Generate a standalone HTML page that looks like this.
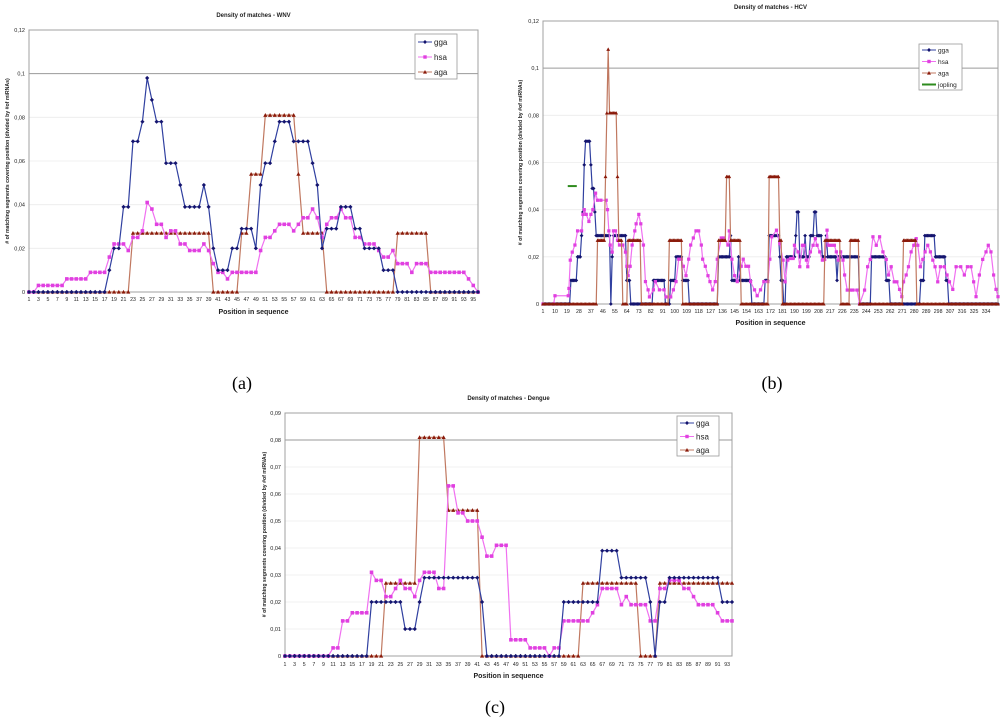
<!DOCTYPE html>
<html><head><meta charset="utf-8"><style>
body{margin:0;background:#fff;}
svg{display:block;font-family:"Liberation Sans",sans-serif;}
</style></head><body>
<svg id="fig" width="1000" height="717" viewBox="0 0 1000 717" xmlns="http://www.w3.org/2000/svg"></svg>
<script>
// ---- Chart (a) WNV data ----
const wnvGga=[0,0,0,0,0,0,0,0,0,0,0,0,0,0,0,0,0,.01,.02,.02,.039,.039,.069,.069,.078,.098,.088,.078,.078,.059,.059,.059,.049,.039,.039,.039,.039,.049,.039,.02,.01,.01,.01,.02,.02,.029,.029,.029,.02,.049,.059,.059,.069,.078,.078,.078,.069,.069,.069,.069,.059,.049,.02,.029,.029,.029,.039,.039,.039,.029,.029,.02,.02,.02,.02,.01,.01,.01,0,0,0,0,0,0,0,0,0,0,0,0,0,0,0,0,0,0];
const wnvHsa=[0,0,.003,.003,.003,.003,.003,.003,.006,.006,.006,.006,.006,.009,.009,.009,.009,.016,.022,.022,.022,.019,.025,.025,.028,.041,.038,.031,.031,.025,.028,.028,.022,.022,.019,.019,.019,.022,.019,.013,.009,.009,.006,.009,.009,.009,.009,.009,.009,.019,.025,.025,.028,.031,.031,.031,.028,.031,.034,.034,.038,.034,.025,.031,.034,.034,.038,.034,.034,.025,.025,.022,.022,.022,.019,.016,.016,.019,.013,.013,.013,.009,.013,.013,.013,.009,.009,.009,.009,.009,.009,.009,.009,.006,.003,0];
const wnvAga=[0,0,0,0,0,0,0,0,0,0,0,0,0,0,0,0,0,0,0,0,0,0,.027,.027,.027,.027,.027,.027,.027,.027,.027,.027,.027,.027,.027,.027,.027,.027,.027,0,0,0,0,0,0,.027,.027,.054,.054,.054,.081,.081,.081,.081,.081,.081,.081,.054,.027,.027,.027,.027,.027,0,0,0,0,0,0,0,0,0,0,0,0,0,0,0,.027,.027,.027,.027,.027,.027,.027,0,0,0,0,0,0,0,0,0,0,0];
const wnvYTicks=["0","0,02","0,04","0,06","0,08","0,1","0,12"];
// ---- Chart (c) Dengue data ----
const denGga=[0,0,0,0,0,0,0,0,0,0,0,0,0,0,0,0,0,0,.02,.02,.02,.02,.02,.02,.02,.01,.01,.01,.02,.029,.029,.029,.029,.029,.029,.029,.029,.029,.029,.029,.029,.02,0,0,0,0,0,0,0,0,0,0,0,0,0,0,0,0,.02,.02,.02,.02,.02,.02,.02,.02,.039,.039,.039,.039,.029,.029,.029,.029,.029,.029,.02,0,.02,.02,.029,.029,.029,.029,.029,.029,.029,.029,.029,.029,.029,.02,.02,.02];
const denHsa=[0,0,0,0,0,0,0,0,0,0,.003,.003,.013,.013,.016,.016,.016,.016,.031,.028,.028,.022,.022,.025,.028,.025,.025,.022,.028,.031,.031,.031,.025,.025,.063,.063,.053,.053,.05,.05,.05,.044,.037,.037,.041,.041,.041,.006,.006,.006,.006,.003,.003,.003,.003,0,.003,.003,.013,.013,.013,.013,.013,.013,.016,.019,.025,.025,.025,.025,.019,.022,.019,.019,.019,.019,.013,.013,.025,.025,.028,.028,.028,.025,.025,.022,.019,.019,.019,.019,.016,.013,.013,.013];
const denAga=[0,0,0,0,0,0,0,0,0,0,0,0,0,0,0,0,0,0,0,0,0,.027,.027,.027,.027,.027,.027,.027,.081,.081,.081,.081,.081,.081,.054,.054,.054,.054,.054,.054,.054,0,0,0,0,0,0,0,0,0,0,0,0,0,0,0,0,0,0,0,0,0,.027,.027,.027,.027,.027,.027,.027,.027,.027,.027,.027,.027,0,0,0,0,.027,.027,.027,.027,.027,.027,.027,.027,.027,.027,.027,.027,.027,.027,.027,.027];
const denYTicks=["0","0,01","0,02","0,03","0,04","0,05","0,06","0,07","0,08","0,09"];
// ---- Chart (b) HCV data (runs: start position, value) ----
const hcvN=343;
const hcvGgaRunStart=[1,22,27,30,31,32,33,37,38,40,41,52,53,54,64,67,84,93,97,101,106,111,133,142,143,148,149,158,168,171,179,180,182,184,191,192,194,198,199,202,205,207,211,214,215,222,223,239,248,259,262,285,288,296,304,306];
const hcvGgaRunVal=[0,.01,.02,.029,.039,.059,.069,.059,.049,.039,.029,0,.02,.029,.01,0,.01,0,.01,.02,.01,0,.02,.029,.01,.02,.01,0,.01,.029,.02,.01,0,.02,.029,.039,.02,.029,.02,.029,.039,.029,.02,.029,.02,.01,.02,0,.02,.01,0,.01,.029,.02,.01,0];
const hcvAgaRunStart=[1,42,48,49,50,51,57,58,61,65,75,96,106,133,139,142,150,171,179,181,213,225,232,239,272,282];
const hcvAgaRunVal=[0,.027,.054,.081,.108,.081,.054,.027,0,.027,0,.027,0,.027,.054,.027,0,.054,.027,0,.027,0,.027,0,.027,0];
const hcvHsaPos=[1,9,10,20,20.5,21.5,23,25,27,30,31,32,33.5,35.5,37,38.5,40.5,42,44.5,48.5,49.5,50.5,51.5,53,54,55.5,57,58.5,61,63,64,65,66.5,68,70,71,73,74.5,76.5,78,80,81,84,85.5,88.5,92,93.5,97,99,101,103,105,106.5,108.5,110.5,112,114,116,118,120,121,123,125,126.5,128.5,130.5,132,135,137,140,141,143,145,147,150,151.5,153.5,155.5,157,160,162,164.5,167,170,171.5,173,176.5,179,181.5,183,185,187,189,190,192.7,194,196,197.2,199,200,202,204,205.7,207,209,211,212.7,214.5,215.7,217.7,220,221.5,223,224.7,226.5,227.7,229.7,232,234,237,239,242.7,245,247,249,251.5,254,256.5,259,260.7,262.7,265,267,269,270.7,272,274,275.7,277.7,279.7,281.5,282.7,284.7,286.5,288.2,290.2,292.2,294,295.7,297.7,299.7,302.7,304.7,306.5,309,311.5,315,317.7,320,322.7,324.7,326.5,329,331.5,334,335.7,337.7,339.7,341.5,343];
const hcvHsaVal=[0,0,.0035,.0035,.0066,.0186,.022,.025,.031,.031,.038,.040,.038,.035,.038,.040,.047,.044,.044,.044,.040,.031,.025,.022,.031,.031,.027,.025,.025,.022,.016,.012,.016,.025,.031,.034,.038,.034,.025,.0095,.006,.003,.006,.0095,.006,.006,.003,.003,.006,.0095,.019,.019,.016,.012,.019,.025,.028,.031,.031,.025,.019,.016,.012,.0095,.006,.0095,.019,.028,.028,.025,.031,.019,.012,.0095,.016,.019,.016,.016,.0095,.006,.0035,.006,.0095,.0095,.019,.0285,.0313,.0256,.0186,.0094,.0186,.0193,.0193,.0249,.0221,.0158,.0249,.0249,.0186,.0158,.0221,.0249,.0277,.0249,.0221,.0186,.0189,.0313,.0249,.0249,.0249,.0221,.0186,.0221,.0186,.0123,.0059,.0059,.0059,.0059,0,.0059,.0158,.0189,.0285,.0249,.0285,.0221,.0189,.0123,.0158,.0094,.0094,.0062,.0031,.0094,.0123,.0158,.0221,.0249,.0277,.0249,.0158,.0189,.0221,.0249,.0221,.0186,.0158,.0094,.0158,.0158,.0123,.0094,.0062,.0158,.0158,.0123,.0158,.0158,.0094,.0031,.0123,.0189,.0221,.0249,.0221,.0123,.0062,.0031];
const hcvJoplingStart=[19.6];
const hcvJoplingEnd=[26.4];
const hcvJoplingVal=[0.05];
const hcvXLabels=[1,10,19,28,37,46,55,64,73,82,91,100,109,118,127,136,145,154,163,172,181,190,199,208,217,226,235,244,253,262,271,280,289,298,307,316,325,334];
const hcvYTicks=["0","0,02","0,04","0,06","0,08","0,1","0,12"];

// expand run data
const hcvGga=[];const hcvAga=[];
for(let p=1;p<=hcvN;p++){
  let g=0,a=0;
  for(let i=0;i<hcvGgaRunStart.length;i++) if(hcvGgaRunStart[i]<=p) g=hcvGgaRunVal[i];
  for(let i=0;i<hcvAgaRunStart.length;i++) if(hcvAgaRunStart[i]<=p) a=hcvAgaRunVal[i];
  hcvGga.push(g);hcvAga.push(a);
}

const NS="http://www.w3.org/2000/svg";
const svg=document.getElementById('fig');
function mk(tag,attrs,parent){const e=document.createElementNS(NS,tag);for(const k in attrs)e.setAttribute(k,attrs[k]);(parent||svg).appendChild(e);return e;}
function txt(s,x,y,size,opts,parent){const e=mk('text',Object.assign({x:x,y:y,'font-size':size,fill:'#222'},opts||{}),parent);e.textContent=s;return e;}

const COL={gga:{line:'#3040a0',mk:'#14146e'},hsa:{line:'#f070f0',mk:'#e040e0'},aga:{line:'#c07860',mk:'#8a1a0a'}};

function marker(type,x,y,s,g){
  if(type==='gga') return mk('path',{d:`M${x} ${y-s}L${x+s} ${y}L${x} ${y+s}L${x-s} ${y}Z`,fill:COL.gga.mk},g);
  if(type==='hsa') return mk('rect',{x:x-s*0.85,y:y-s*0.85,width:s*1.7,height:s*1.7,fill:COL.hsa.mk},g);
  return mk('path',{d:`M${x} ${y-s}L${x+s} ${y+s*0.8}L${x-s} ${y+s*0.8}Z`,fill:COL.aga.mk},g);
}

function chart(cfg){
  const g=mk('g',{});
  
  
  const X=p=>cfg.l+(p-1)*(cfg.r-cfg.l)/(cfg.n-1);
  const Y=v=>cfg.b-v/cfg.ymax*(cfg.b-cfg.t);
  cfg.yTicks.forEach((lab,i)=>{
    const v=i*cfg.ystep;const y=Y(v);
    const hi=Math.abs(v-cfg.hi)<1e-9;
    const gl=mk('line',{x1:cfg.l,x2:cfg.r,y1:y,y2:y,stroke:hi?'#9a9a9a':'#ececec','stroke-width':hi?1:0.8},g);
    
    
    const t=txt(lab,cfg.l-4,y+2,5.5,{'text-anchor':'end'},g);
    
    
  });
  const fr=mk('rect',{x:cfg.l,y:cfg.t,width:cfg.r-cfg.l,height:cfg.b-cfg.t,fill:'none',stroke:'#a0a0a0','stroke-width':1},g);
  
  
  cfg.xLabels.forEach(p=>{
    const t=txt(String(p),X(p),cfg.xly,5.2,{'text-anchor':'middle'},g);
    
    
  });
  cfg.series.forEach(s=>{
    const sg=mk('g',{},g);
    
    
    const pos=s.pos||s.vals.map((v,i)=>i+1);
    const d=pos.map((p,i)=>(i?'L':'M')+X(p).toFixed(2)+' '+Y(s.vals[i]).toFixed(2)).join('');
    const pl=mk('path',{d:d,fill:'none',stroke:COL[s.type].line,'stroke-width':1.2},sg);
    
    
    pos.forEach((p,i)=>{const m=marker(s.type,X(p),Y(s.vals[i]),cfg.ms,sg);
      
      });
  });
  if(cfg.jop){
    cfg.jop.start.forEach((st,i)=>{
      const jl=mk('line',{x1:X(st),x2:X(cfg.jop.end[i]),y1:Y(cfg.jop.val[i]),y2:Y(cfg.jop.val[i]),stroke:'#2e8b1e','stroke-width':2},g);
      
      
    });
  }
  const tt=txt(cfg.title,(cfg.l+cfg.r)/2,cfg.ty,6,{'text-anchor':'middle','font-weight':'bold'},g);
  
  
  const xt=txt('Position in sequence',(cfg.l+cfg.r)/2,cfg.xty,7,{'text-anchor':'middle','font-weight':'bold'},g);
  
  
  const yx=cfg.yx, yy=(cfg.t+cfg.b)/2;
  const yt=txt('# of matching segments covering position (divided by #of miRNAs)',yx,yy,5.2,{'text-anchor':'middle','font-weight':'bold',transform:`rotate(-90 ${yx} ${yy})`},g);
  
  
  const L=cfg.leg;
  const lg=mk('g',{},g);
  
  
  mk('rect',{x:L.x,y:L.y,width:L.w,height:L.h,fill:'#fff',stroke:'#999','stroke-width':0.8},lg);
  const items=cfg.jop?['gga','hsa','aga','jopling']:['gga','hsa','aga'];
  items.forEach((it,i)=>{
    const y=L.y+L.pad+i*L.dy;
    const e=mk('g',{},lg);
    
    
    if(it==='jopling'){mk('line',{x1:L.x+3,x2:L.x+17,y1:y,y2:y,stroke:'#2e8b1e','stroke-width':2},e);}
    else{mk('line',{x1:L.x+3,x2:L.x+17,y1:y,y2:y,stroke:COL[it].line,'stroke-width':1},e);marker(it,L.x+10,y,2,e);}
    txt(it,L.x+19,y+L.fs*0.35,L.fs,{},e);
  });
  const cp=txt(cfg.cap,cfg.capx,cfg.capy,18,{'text-anchor':'middle','font-family':'"Liberation Serif",serif',fill:'#000'});
  
  
}

const oddA=[];for(let p=1;p<=95;p+=2)oddA.push(p);
const oddC=[];for(let p=1;p<=93;p+=2)oddC.push(p);

chart({name:'chart-wnv',title:'Density of matches - WNV',l:29,r:478,t:30,b:292,n:96,ymax:.12,ystep:.02,hi:.1,yTicks:wnvYTicks,xLabels:oddA,xly:301,xty:314,ty:17,yx:9,ms:2.1,
  series:[{type:'aga',vals:wnvAga},{type:'hsa',vals:wnvHsa},{type:'gga',vals:wnvGga}],
  leg:{x:415,y:34,w:42,h:45,pad:8,dy:15,fs:8},cap:'(a)',capx:242,capy:389});
chart({name:'chart-hcv',title:'Density of matches - HCV',l:543,r:998,t:21,b:304,n:hcvN,ymax:.12,ystep:.02,hi:.1,yTicks:hcvYTicks,xLabels:hcvXLabels,xly:313,xty:325,ty:9,yx:522,ms:1.9,
  series:[{type:'gga',vals:hcvGga},{type:'hsa',vals:hcvHsaVal,pos:hcvHsaPos},{type:'aga',vals:hcvAga}],
  jop:{start:hcvJoplingStart,end:hcvJoplingEnd,val:hcvJoplingVal},
  leg:{x:919,y:44,w:43,h:46,pad:6,dy:11.5,fs:6.5},cap:'(b)',capx:772,capy:389});
chart({name:'chart-dengue',title:'Density of matches - Dengue',l:285,r:732,t:413,b:656,n:94,ymax:.09,ystep:.01,hi:.08,yTicks:denYTicks,xLabels:oddC,xly:666,xty:678,ty:400,yx:266,ms:2.1,
  series:[{type:'aga',vals:denAga},{type:'hsa',vals:denHsa},{type:'gga',vals:denGga}],
  leg:{x:677,y:416,w:42,h:40,pad:7,dy:13.5,fs:8},cap:'(c)',capx:495,capy:713});
</script>
</body></html>
